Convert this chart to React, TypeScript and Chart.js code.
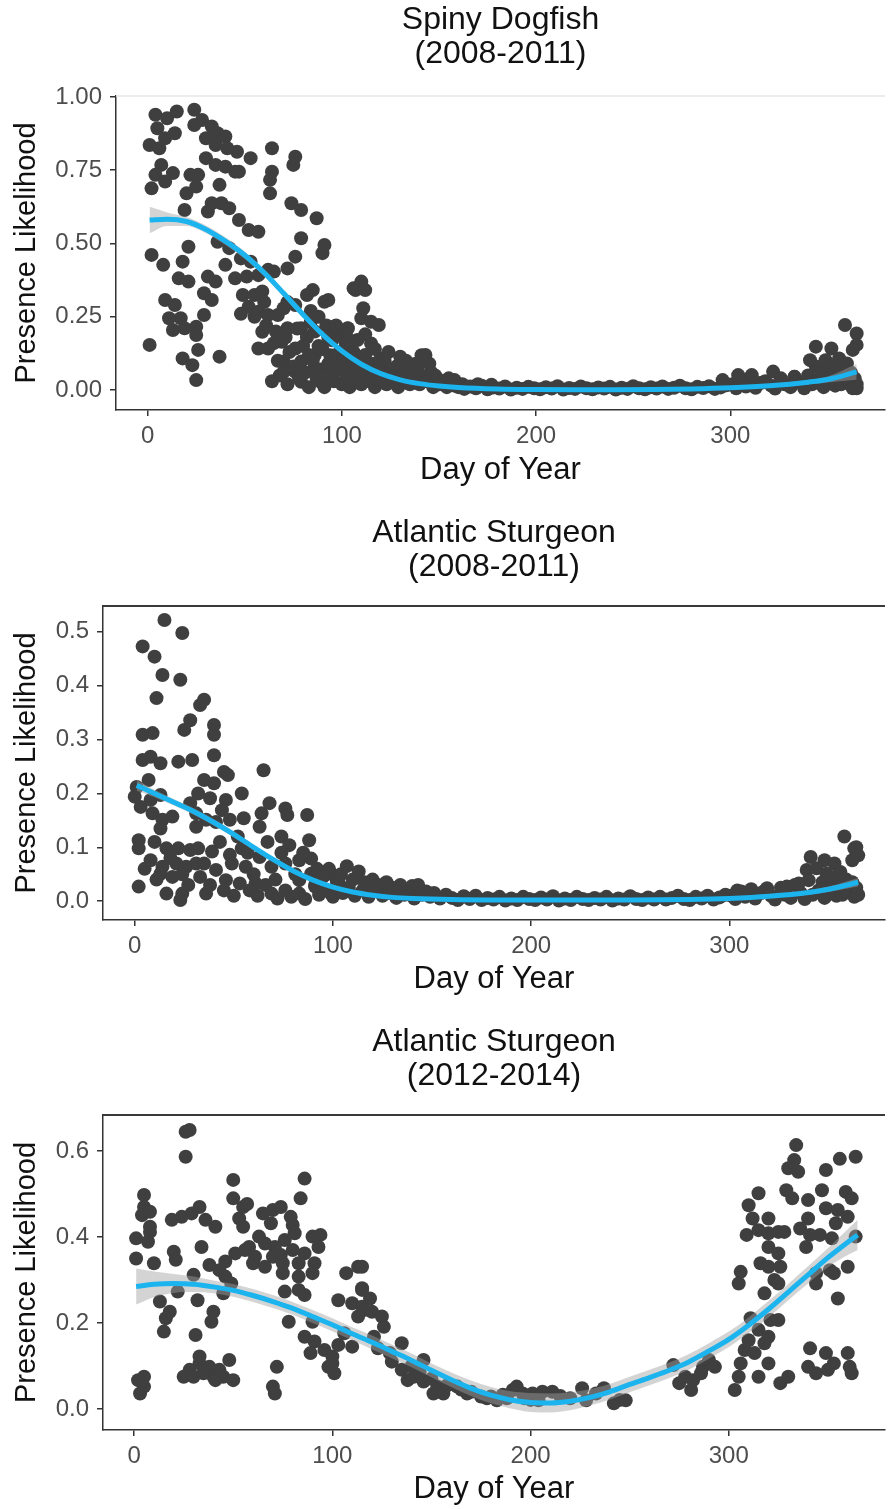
import React, { useEffect, useRef } from 'react';
import { Chart, registerables } from 'chart.js';

Chart.register(...registerables);

type Pt = [number, number];

// ---------- tick labels ----------
const xTicks = [0, 100, 200, 300];
const dogfishYTicks = [0, 0.25, 0.5, 0.75, 1.0];
const sturgeonAYTicks = [0, 0.1, 0.2, 0.3, 0.4, 0.5];
const sturgeonBYTicks = [0, 0.2, 0.4, 0.6];

const titles = [
  ['Spiny Dogfish', '(2008-2011)'],
  ['Atlantic Sturgeon', '(2008-2011)'],
  ['Atlantic Sturgeon', '(2012-2014)'],
];
const xTitle = 'Day of Year';
const yTitle = 'Presence Likelihood';

// ---------- Spiny Dogfish 2008-2011 ----------
const dogfishObs: Pt[] = [
  [4,0.939],[10,0.927],[15,0.95],[5,0.893],[9,0.859],[14,0.876],[1,0.836],[6,0.825],[24,0.956],[24,0.904],
  [28,0.921],[33,0.899],[36,0.876],[40,0.865],[35,0.836],[41,0.825],[46,0.813],[30,0.859],[53,0.791],[64,0.825],
  [76,0.796],[75,0.768],[30,0.791],[35,0.768],[40,0.762],[45,0.745],[47,0.745],[26,0.734],[22,0.734],[7,0.768],
  [4,0.734],[13,0.74],[9,0.711],[2,0.688],[20,0.671],[25,0.694],[37,0.7],[64,0.745],[63,0.717],[63,0.671],
  [74,0.637],[79,0.614],[87,0.586],[33,0.637],[38,0.637],[42,0.62],[31,0.609],[47,0.58],[19,0.614],[52,0.546],
  [57,0.54],[79,0.518],[91,0.495],[90,0.467],[36,0.506],[42,0.484],[40,0.427],[48,0.449],[53,0.438],[45,0.381],
  [51,0.387],[57,0.392],[62,0.41],[65,0.404],[72,0.415],[76,0.455],[2,0.461],[8,0.427],[18,0.438],[16,0.381],
  [21,0.37],[31,0.387],[35,0.37],[21,0.489],[29,0.33],[33,0.307],[9,0.307],[14,0.29],[11,0.245],[17,0.245],
  [13,0.205],[19,0.211],[25,0.216],[29,0.256],[25,0.188],[49,0.324],[55,0.324],[59,0.336],[52,0.284],[57,0.267],
  [62,0.256],[67,0.256],[70,0.279],[76,0.29],[82,0.324],[85,0.341],[91,0.301],[79,0.211],[84,0.233],[72,0.211],
  [69,0.165],[76,0.142],[59,0.199],[57,0.142],[62,0.142],[70,0.097],[79,0.097],[86,0.074],[89,0.028],[96,0.062],
  [101,0.028],[106,0.051],[94,0.119],[98,0.188],[103,0.211],[106,0.347],[110,0.37],[111,0.279],[1,0.154],[18,0.108],
  [23,0.085],[25,0.034],[26,0.137],[37,0.114],[70,0.062],[76,0.062],[86,0.119],[79,0.028],
  [109,0.353],[107,0.341],[112,0.341],[110,0.245],[115,0.233],[119,0.222],[108,0.171],[115,0.159],[96,0.216],[103,0.21],
  [93,0.307],[130,0.114],[141,0.119],[120,0.108],[105,0.125],[158,0.034],
  [82,0.18],[88,0.15],[92,0.22],[95,0.17],[99,0.13],[84,0.27],[88,0.25],[66,0.2],[72,0.3],[60,0.3],
  [55,0.25],[48,0.26],[102,0.16],[106,0.13],[112,0.19],[117,0.14],
  [61,0.22],[65,0.16],[67,0.1],[71,0.18],[73,0.13],[77,0.21],[80,0.15],[83,0.12],[86,0.2],[90,0.14],
  [93,0.18],[97,0.22],[100,0.09],[104,0.17],[108,0.08],[112,0.12],[116,0.09],[121,0.06],[124,0.13],[127,0.05],
  [133,0.1],[136,0.06],[139,0.08],[145,0.09],[148,0.05],
  [64,0.03],[68,0.05],[72,0.02],[75,0.08],[78,0.04],[81,0.06],[83,0.01],[85,0.1],[87,0.04],[89,0.07],
  [91,0.01],[93,0.09],[92,0.05],[94,0.09],[96,0.03],[97,0.12],[99,0.07],[100,0.02],[101,0.1],[103,0.05],
  [104,0.01],[105,0.08],[107,0.04],[108,0.11],[110,0.02],[111,0.06],[113,0.09],[114,0.03],[116,0.05],[117,0.01],
  [119,0.07],[120,0.03],[122,0.1],[123,0.02],[125,0.06],[126,0.04],[128,0.08],[129,0.01],[131,0.05],[132,0.03],
  [134,0.07],[135,0.02],[137,0.04],[138,0.09],[140,0.02],[141,0.05],[143,0.12],[144,0.03],[146,0.06],[147,0.01],
  [149,0.04],[150,0.02],[152,0.03],[154,0.01],[156,0.02],[155,0.04],[158,0.015],[162,0.02],[170,0.02],[177,0.018],
  [160,0.01],[163,0.004],[166,0.012],[169,0.006],[172,0.015],[175,0.003],[178,0.009],[181,0.005],[184,0.012],[187,0.002],
  [190,0.008],[193,0.004],[196,0.011],[199,0.006],[202,0.003],[205,0.01],[208,0.005],[211,0.013],[214,0.002],[217,0.007],
  [220,0.004],[223,0.012],[226,0.006],[229,0.003],[232,0.009],[235,0.005],[238,0.011],[241,0.002],[244,0.008],[247,0.004],
  [250,0.013],[253,0.006],[256,0.003],[259,0.01],[262,0.005],[265,0.012],[268,0.004],[271,0.008],[274,0.015],[277,0.006],
  [280,0.003],[283,0.011],[286,0.007],[289,0.013],[292,0.004],[295,0.009],[298,0.016],
  [301,0.02],[303,0.006],[306,0.035],[308,0.012],[311,0.04],[313,0.008],[316,0.025],[318,0.03],[321,0.015],[323,0.005],
  [326,0.04],[328,0.02],[331,0.01],[333,0.045],[336,0.025],[338,0.006],[340,0.05],[342,0.02],[344,0.08],[345,0.035],
  [347,0.06],[348,0.01],[350,0.09],[351,0.045],[353,0.07],[354,0.015],[356,0.05],[357,0.02],[359,0.075],[360,0.03],
  [362,0.06],[363,0.012],[364,0.04],[365,0.02],
  [359,0.222],[365,0.193],[365,0.154],[363,0.137],[344,0.148],[352,0.142],[341,0.102],[349,0.102],[356,0.108],[360,0.091],
  [304,0.051],[311,0.051],[322,0.063],[333,0.045],[296,0.034],[363,0.006],[365,0.006],
];
const dogfishFitDays = [1,10,20,30,40,50,60,70,80,90,100,110,120,130,140,150,160,180,200,220,240,260,280,300,320,340,350,365];
const dogfishFit = [0.58,0.583,0.575,0.548,0.508,0.46,0.4,0.33,0.258,0.19,0.133,0.088,0.056,0.035,0.022,0.014,0.009,0.004,0.002,0.001,0.001,0.002,0.004,0.008,0.015,0.027,0.036,0.062];
const dogfishLo = [0.535,0.56,0.56,0.535,0.495,0.447,0.388,0.318,0.246,0.18,0.124,0.08,0.05,0.03,0.017,0.009,0.005,0.001,-0.001,-0.002,-0.002,-0.001,0.001,0.004,0.01,0.02,0.026,0.035];
const dogfishHi = [0.625,0.606,0.59,0.561,0.521,0.473,0.412,0.342,0.27,0.2,0.142,0.096,0.062,0.04,0.027,0.019,0.013,0.007,0.005,0.004,0.004,0.005,0.007,0.012,0.02,0.034,0.046,0.089];

// ---------- Atlantic Sturgeon 2008-2011 ----------
const sturgeonAObs: Pt[] = [
  [15,0.522],[24,0.498],[4,0.473],[10,0.454],[14,0.42],[23,0.411],[11,0.377],[33,0.364],[35,0.374],[28,0.336],
  [25,0.318],[40,0.327],[40,0.309],[4,0.309],[9,0.312],[40,0.271],[4,0.262],[8,0.268],[13,0.256],[22,0.259],
  [29,0.262],[65,0.243],[45,0.24],[47,0.234],[7,0.225],[1,0.212],[35,0.225],[40,0.219],[54,0.2],[0,0.194],
  [3,0.175],[8,0.188],[13,0.197],[28,0.182],[32,0.2],[38,0.191],[46,0.188],[44,0.169],[9,0.163],[14,0.151],
  [19,0.157],[31,0.163],[36,0.151],[41,0.147],[48,0.151],[55,0.154],[64,0.163],[68,0.182],[76,0.172],[77,0.16],
  [87,0.16],[63,0.138],[13,0.135],[31,0.138],[74,0.12],[78,0.104],[88,0.113],[2,0.113],[2,0.098],[10,0.11],
  [16,0.098],[22,0.098],[28,0.095],[32,0.098],[39,0.092],[48,0.086],[54,0.098],[8,0.076],[14,0.064],[21,0.07],
  [26,0.064],[31,0.07],[41,0.058],[49,0.07],[56,0.064],[63,0.082],[69,0.064],[76,0.07],[83,0.076],[89,0.079],
  [13,0.051],[19,0.045],[33,0.045],[46,0.039],[53,0.033],[61,0.033],[2,0.027],[16,0.014],[24,0.014],[36,0.014],
  [23,0.002],[69,0.014],[76,0.02],[83,0.014],[91,0.027],[99,0.014],[106,0.02],[83,0.039],[89,0.051],[99,0.051],
  [103,0.033],[58,0.02],[62,0.01],[66,0.03],[72,0.005],[79,0.008],[86,0.004],[45,0.02],[50,0.01],
  [5,0.06],[11,0.04],[18,0.08],[24,0.05],[27,0.03],[35,0.07],[38,0.03],[43,0.11],[52,0.12],[57,0.09],
  [60,0.05],[67,0.11],[71,0.04],[74,0.09],[81,0.05],[85,0.09],[92,0.06],[95,0.02],
  [91,0.03],[93,0.012],[95,0.045],[97,0.02],[98,0.06],[100,0.008],[102,0.035],[104,0.05],[105,0.015],[107,0.065],
  [108,0.025],[110,0.04],[111,0.01],[113,0.055],[115,0.02],[116,0.035],[118,0.008],[120,0.04],[121,0.02],[123,0.03],
  [125,0.01],[127,0.035],[128,0.015],[130,0.025],[132,0.006],[134,0.03],[136,0.012],[138,0.02],[140,0.028],[141,0.005],
  [143,0.03],[145,0.012],[147,0.018],[149,0.008],[151,0.015],[154,0.005],[157,0.012],
  [160,0.006],[163,0.002],[166,0.009],[169,0.004],[172,0.01],[175,0.002],[178,0.006],[181,0.003],[184,0.008],[187,0.001],
  [190,0.005],[193,0.002],[196,0.008],[199,0.004],[202,0.002],[205,0.007],[208,0.003],[211,0.009],[214,0.001],[217,0.005],
  [220,0.002],[223,0.008],[226,0.004],[229,0.002],[232,0.006],[235,0.003],[238,0.008],[241,0.001],[244,0.005],[247,0.003],
  [250,0.009],[253,0.004],[256,0.002],[259,0.007],[262,0.003],[265,0.008],[268,0.003],[271,0.006],[274,0.01],[277,0.004],
  [280,0.002],[283,0.008],[286,0.005],[289,0.01],[292,0.003],[295,0.007],[298,0.012],
  [301,0.01],[303,0.004],[306,0.018],[308,0.008],[311,0.022],[313,0.005],[316,0.015],[318,0.02],[321,0.01],[323,0.003],
  [326,0.025],[328,0.012],[331,0.006],[333,0.03],[336,0.015],[338,0.004],[342,0.012],[345,0.02],[347,0.035],[348,0.006],
  [350,0.04],[351,0.025],[353,0.045],[354,0.01],[356,0.03],[357,0.012],[359,0.04],[360,0.018],[362,0.035],[363,0.008],
  [364,0.025],[365,0.012],
  [358,0.12],[363,0.098],[362,0.076],[341,0.082],[348,0.076],[353,0.07],[339,0.058],[344,0.061],[349,0.051],[356,0.054],
  [340,0.039],[335,0.033],[304,0.02],[319,0.024],[329,0.027],[365,0.085],[364,0.1],
];
const sturgeonAFitDays = [1,10,20,30,40,50,60,70,80,90,100,110,120,130,140,160,200,250,280,300,320,340,350,365];
const sturgeonAFit = [0.215,0.2,0.183,0.166,0.146,0.124,0.1,0.077,0.056,0.039,0.026,0.017,0.011,0.007,0.005,0.003,0.002,0.002,0.003,0.005,0.009,0.016,0.022,0.035];
const sturgeonALo = [0.205,0.193,0.177,0.16,0.14,0.118,0.095,0.073,0.052,0.036,0.023,0.015,0.009,0.005,0.003,0.001,0.0,0.0,0.001,0.003,0.006,0.012,0.017,0.027];
const sturgeonAHi = [0.225,0.207,0.189,0.172,0.152,0.13,0.105,0.081,0.06,0.042,0.029,0.019,0.013,0.009,0.007,0.005,0.004,0.004,0.005,0.007,0.012,0.02,0.027,0.043];

// ---------- Atlantic Sturgeon 2012-2014 ----------
const sturgeonBObs: Pt[] = [
  [26,0.645],[28,0.649],[26,0.587],[50,0.533],[86,0.536],[5,0.498],[84,0.49],[5,0.47],[4,0.451],[8,0.459],
  [50,0.49],[55,0.47],[57,0.477],[33,0.47],[29,0.455],[24,0.447],[19,0.44],[36,0.44],[41,0.424],[65,0.455],
  [70,0.463],[74,0.47],[79,0.447],[53,0.443],[55,0.424],[69,0.432],[80,0.428],[8,0.424],[8,0.412],[1,0.397],
  [7,0.389],[63,0.401],[76,0.393],[81,0.409],[90,0.401],[94,0.405],[34,0.377],[58,0.377],[66,0.385],[71,0.377],
  [1,0.35],[10,0.339],[20,0.366],[21,0.347],[51,0.362],[56,0.37],[61,0.354],[70,0.354],[74,0.358],[80,0.37],
  [86,0.362],[93,0.377],[38,0.335],[46,0.343],[60,0.339],[66,0.331],[75,0.339],[83,0.339],[91,0.339],[43,0.323],
  [46,0.308],[75,0.316],[83,0.308],[90,0.316],[30,0.312],[49,0.292],[83,0.277],[76,0.273],[86,0.265],[22,0.273],
  [45,0.269],[32,0.253],[13,0.25],[18,0.226],[16,0.211],[15,0.18],[40,0.226],[39,0.203],[31,0.172],[78,0.203],
  [90,0.203],[103,0.253],[107,0.316],[113,0.331],[110,0.246],[115,0.277],[116,0.23],[113,0.215],[86,0.168],[91,0.157],
  [96,0.137],[103,0.149],[106,0.176],[110,0.145],[100,0.122],[100,0.106],[89,0.13],[98,0.098],[101,0.083],[72,0.098],
  [70,0.052],[71,0.036],[48,0.114],[43,0.091],[38,0.098],[33,0.106],[28,0.091],[25,0.075],[30,0.075],[35,0.083],
  [40,0.075],[45,0.075],[50,0.067],[33,0.122],[41,0.067],[2,0.067],[5,0.052],[3,0.036],[5,0.075],
  [115,0.331],[115,0.281],[119,0.257],[115,0.238],[120,0.226],[125,0.215],[126,0.191],[121,0.168],[123,0.141],[129,0.13],
  [130,0.11],[135,0.153],[135,0.091],[138,0.067],[141,0.075],[146,0.114],[146,0.064],[153,0.052],[156,0.036],[151,0.036],
  [163,0.052],[168,0.036],[175,0.029],[180,0.029],[186,0.033],[191,0.044],[196,0.036],[201,0.036],[206,0.04],[211,0.04],
  [200,0.021],[193,0.052],[220,0.025],[226,0.048],[233,0.036],[237,0.048],[245,0.021],[242,0.013],
  [140,0.1],[144,0.085],[150,0.07],[158,0.055],[165,0.045],[170,0.04],[178,0.025],[183,0.02],[188,0.025],[197,0.025],
  [204,0.02],[215,0.03],[228,0.02],[248,0.02],
  [334,0.614],[333,0.579],[330,0.56],[335,0.552],[356,0.582],[364,0.587],[349,0.556],[315,0.502],[310,0.474],[329,0.509],
  [332,0.49],[340,0.486],[347,0.509],[359,0.505],[362,0.49],[312,0.443],[320,0.443],[349,0.467],[355,0.463],[340,0.443],
  [360,0.447],[354,0.432],[309,0.405],[315,0.416],[320,0.409],[325,0.412],[328,0.412],[336,0.42],[341,0.405],[346,0.405],
  [352,0.397],[364,0.401],[320,0.377],[325,0.362],[339,0.377],[316,0.339],[320,0.331],[326,0.331],[323,0.3],[325,0.292],
  [306,0.319],[305,0.292],[318,0.269],[344,0.316],[344,0.292],[351,0.323],[353,0.316],[360,0.331],[355,0.257],[325,0.207],
  [321,0.207],[311,0.211],[315,0.184],[320,0.168],[310,0.16],[318,0.153],[308,0.137],[313,0.13],[320,0.106],[306,0.106],
  [315,0.075],[305,0.075],[303,0.044],[326,0.06],[330,0.075],[341,0.141],[349,0.13],[360,0.13],[340,0.098],[344,0.083],
  [350,0.091],[361,0.098],[362,0.083],[353,0.106],[272,0.102],[278,0.075],[275,0.06],[281,0.044],[287,0.098],[290,0.114],
  [293,0.098],[282,0.067],[286,0.083],
];
const sturgeonBFitDays = [1,10,20,30,40,50,60,70,80,90,100,110,120,130,140,150,160,170,180,190,200,210,220,230,240,250,260,270,280,290,300,310,320,330,340,350,360,365];
const sturgeonBFit = [0.285,0.29,0.292,0.29,0.284,0.276,0.264,0.25,0.234,0.215,0.196,0.175,0.155,0.134,0.113,0.09,0.068,0.048,0.032,0.021,0.015,0.014,0.018,0.027,0.04,0.057,0.073,0.09,0.11,0.135,0.162,0.195,0.232,0.272,0.312,0.352,0.388,0.405];
const sturgeonBLo = [0.243,0.26,0.27,0.272,0.269,0.261,0.249,0.235,0.219,0.2,0.181,0.16,0.139,0.118,0.097,0.074,0.051,0.03,0.013,0.001,-0.007,-0.008,-0.003,0.008,0.022,0.039,0.055,0.072,0.092,0.117,0.144,0.177,0.213,0.253,0.292,0.33,0.358,0.37];
const sturgeonBHi = [0.327,0.32,0.314,0.308,0.299,0.291,0.279,0.265,0.249,0.23,0.211,0.19,0.171,0.15,0.129,0.106,0.085,0.066,0.051,0.041,0.037,0.036,0.039,0.046,0.058,0.075,0.091,0.108,0.128,0.153,0.18,0.213,0.251,0.291,0.332,0.374,0.418,0.44];

// ---------- styling / layout (not data) ----------
const NARROW = "'Liberation Sans Narrow', 'Liberation Sans', Arial, sans-serif";
const REGULAR = "'Liberation Sans', Arial, sans-serif";
const POINT_COLOR = '#3f3f3f';
const LINE_COLOR = '#1cb4ee';
const BAND_COLOR = 'rgba(160,160,160,0.45)';

interface PanelCfg {
  title: string[];
  obs: Pt[];
  fitDays: number[];
  fit: number[];
  lo: number[];
  hi: number[];
  yTicks: number[];
  decimals: number;
  height: number;
  xMin: number; xMax: number; yMin: number; yMax: number;
  yAxisWidth: number; xAxisHeight: number;
  titlePadTop: number; titlePadBottom: number;
  xTitlePadBottom: number;
  topColor: string; topWidth: number;
}

const panels: PanelCfg[] = [
  {
    title: titles[0], obs: dogfishObs, fitDays: dogfishFitDays, fit: dogfishFit, lo: dogfishLo, hi: dogfishHi,
    yTicks: dogfishYTicks, decimals: 2, height: 500,
    xMin: -16.3, xMax: 379.6, yMin: -0.068, yMax: 1.003,
    yAxisWidth: 116, xAxisHeight: 90, titlePadTop: 3, titlePadBottom: 25, xTitlePadBottom: 12,
    topColor: '#e6e6e6', topWidth: 1.5,
  },
  {
    title: titles[1], obs: sturgeonAObs, fitDays: sturgeonAFitDays, fit: sturgeonAFit, lo: sturgeonALo, hi: sturgeonAHi,
    yTicks: sturgeonAYTicks, decimals: 1, height: 509,
    xMin: -16, xMax: 378.5, yMin: -0.035, yMax: 0.548,
    yAxisWidth: 103, xAxisHeight: 89, titlePadTop: 16, titlePadBottom: 22, xTitlePadBottom: 12,
    topColor: '#3a3a3a', topWidth: 2,
  },
  {
    title: titles[2], obs: sturgeonBObs, fitDays: sturgeonBFitDays, fit: sturgeonBFit, lo: sturgeonBLo, hi: sturgeonBHi,
    yTicks: sturgeonBYTicks, decimals: 1, height: 500,
    xMin: -15.7, xMax: 378.8, yMin: -0.049, yMax: 0.684,
    yAxisWidth: 103, xAxisHeight: 79, titlePadTop: 16, titlePadBottom: 22, xTitlePadBottom: 2,
    topColor: '#3a3a3a', topWidth: 2,
  },
];

const topBorderPlugin = {
  id: 'topBorder',
  afterDatasetsDraw(chart: any, _args: any, opts: any) {
    const { ctx, chartArea } = chart;
    ctx.save();
    ctx.strokeStyle = opts.color;
    ctx.lineWidth = opts.width;
    ctx.beginPath();
    ctx.moveTo(chartArea.left, chartArea.top);
    ctx.lineTo(chartArea.right, chartArea.top);
    ctx.stroke();
    ctx.restore();
  },
};

function Panel({ cfg }: { cfg: PanelCfg }) {
  const ref = useRef<HTMLCanvasElement>(null);
  useEffect(() => {
    const toXY = (days: number[], vals: number[]) => days.map((d, i) => ({ x: d, y: vals[i] }));
    const chart = new Chart(ref.current as HTMLCanvasElement, {
      type: 'scatter',
      data: {
        datasets: [
          {
            type: 'line',
            data: toXY(cfg.fitDays, cfg.fit),
            borderColor: LINE_COLOR,
            borderWidth: 5,
            pointRadius: 0,
            cubicInterpolationMode: 'monotone',
            fill: false,
            order: 0,
          } as any,
          {
            type: 'line',
            data: toXY(cfg.fitDays, cfg.hi),
            borderColor: 'rgba(0,0,0,0)',
            borderWidth: 0,
            pointRadius: 0,
            backgroundColor: BAND_COLOR,
            cubicInterpolationMode: 'monotone',
            fill: '+1',
            order: 1,
          } as any,
          {
            type: 'line',
            data: toXY(cfg.fitDays, cfg.lo),
            borderColor: 'rgba(0,0,0,0)',
            borderWidth: 0,
            pointRadius: 0,
            cubicInterpolationMode: 'monotone',
            fill: false,
            order: 2,
          } as any,
          {
            type: 'scatter',
            data: cfg.obs.map(([x, y]) => ({ x, y })),
            pointRadius: 7,
            pointBackgroundColor: POINT_COLOR,
            backgroundColor: POINT_COLOR,
            borderWidth: 0,
            pointBorderWidth: 0,
            order: 3,
          } as any,
        ],
      },
      options: {
        animation: false,
        responsive: false,
        devicePixelRatio: 1,
        events: [],
        layout: { padding: 0 },
        plugins: {
          legend: { display: false },
          tooltip: { enabled: false },
          title: {
            display: true,
            text: cfg.title,
            fullSize: false,
            color: '#111',
            font: { family: NARROW, size: 32, weight: 'normal', lineHeight: 34 / 32 },
            padding: { top: cfg.titlePadTop, bottom: cfg.titlePadBottom },
          },
          topBorder: { color: cfg.topColor, width: cfg.topWidth },
        } as any,
        scales: {
          x: {
            type: 'linear',
            min: cfg.xMin,
            max: cfg.xMax,
            afterBuildTicks: (s: any) => { s.ticks = xTicks.map((v) => ({ value: v })); },
            afterFit: (s: any) => { s.height = cfg.xAxisHeight; },
            grid: { drawOnChartArea: false, drawTicks: true, tickLength: 6, color: '#333', lineWidth: 1.5 },
            border: { display: true, color: '#333', width: 1.5 },
            ticks: {
              color: '#4d4d4d',
              font: { family: NARROW, size: 24 },
              padding: 6,
              maxRotation: 0,
              autoSkip: false,
              callback: (v: any) => String(v),
            },
            title: {
              display: true,
              text: xTitle,
              color: '#111',
              font: { family: NARROW, size: 31, lineHeight: 1.1 },
              padding: { top: 0, bottom: cfg.xTitlePadBottom },
            },
          },
          y: {
            type: 'linear',
            min: cfg.yMin,
            max: cfg.yMax,
            afterBuildTicks: (s: any) => { s.ticks = cfg.yTicks.map((v) => ({ value: v })); },
            afterFit: (s: any) => { s.width = cfg.yAxisWidth; },
            grid: { drawOnChartArea: false, drawTicks: true, tickLength: 6, color: '#333', lineWidth: 1.5 },
            border: { display: true, color: '#333', width: 1.5 },
            ticks: {
              color: '#4d4d4d',
              font: { family: NARROW, size: 24 },
              padding: 8,
              autoSkip: false,
              callback: (v: any) => Number(v).toFixed(cfg.decimals),
            },
            title: {
              display: true,
              text: yTitle,
              color: '#111',
              font: { family: REGULAR, size: 29, lineHeight: 1.2 },
              padding: { top: 10, bottom: 0 },
            },
          },
        },
      } as any,
      plugins: [topBorderPlugin],
    });
    return () => chart.destroy();
  }, [cfg]);
  return (
    <canvas
      ref={ref}
      width={892}
      height={cfg.height}
      style={{ display: 'block', width: 892, height: cfg.height }}
    />
  );
}

export default function App() {
  useEffect(() => {
    document.body.style.margin = '0';
    document.body.style.background = '#ffffff';
    document.body.style.overflow = 'hidden';
  }, []);
  return (
    <div style={{ width: 892, background: '#fff' }}>
      {panels.map((p, i) => (
        <Panel key={i} cfg={p} />
      ))}
    </div>
  );
}
